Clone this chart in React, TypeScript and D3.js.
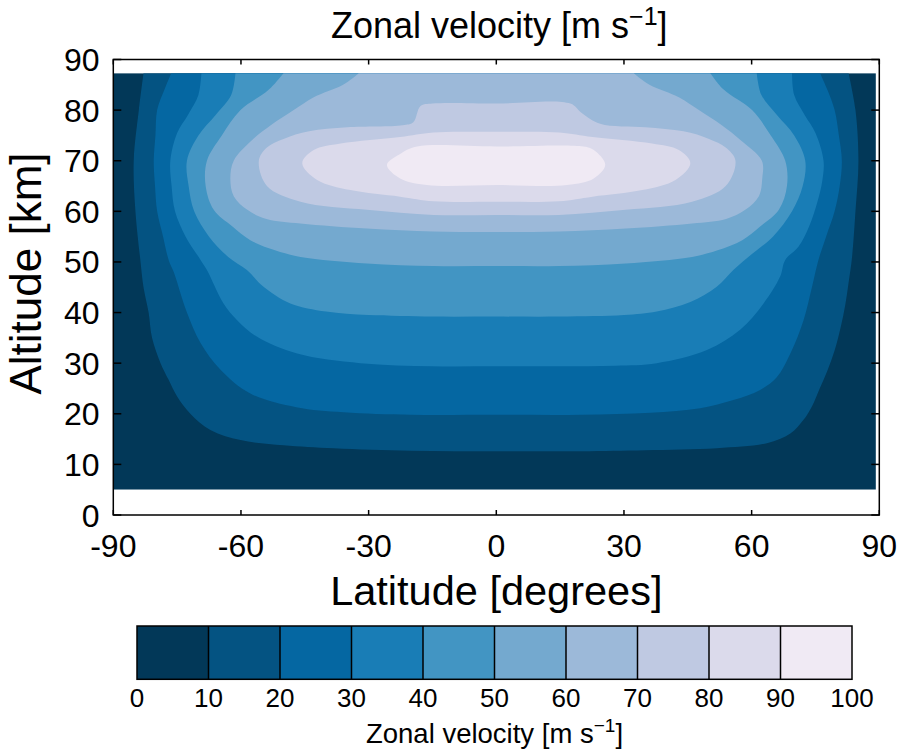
import React from "react";
import * as d3 from "d3";

// ---------- data ----------
const latTicks = [-90, -60, -30, 0, 30, 60, 90];
const altTicks = [0, 10, 20, 30, 40, 50, 60, 70, 80, 90];
const levels = [0, 10, 20, 30, 40, 50, 60, 70, 80, 90, 100];
const latExtent = [-90, 89.2];
const altExtent = [5, 87.3];

// contour lines [latitude, altitude] for each level (open ones end on the top edge)
const contour10: [number, number][] = [
  [-82.9, 87.3], [-84.0, 80], [-85.2, 70], [-84.8, 60], [-83.6, 50], [-82.9, 45], [-81.7, 40],
  [-80.9, 35], [-78.9, 30], [-77.0, 26.7], [-75.0, 23.4], [-71.9, 20.0], [-67.2, 16.8],
  [-60.1, 14.8], [-50.0, 13.8], [-38.2, 13.2], [-20, 12.7], [0, 12.6], [20, 12.6], [35, 12.8],
  [51.8, 13.2], [63.6, 14.2], [69.1, 16.1], [72.2, 18.8], [74.2, 21.5], [76.0, 25],
  [77.8, 28.5], [79.5, 32.5], [80.9, 37], [82.0, 41.5], [82.8, 46], [83.6, 51], [84.4, 60],
  [85.1, 70], [84.4, 80], [82.8, 87.3],
];
const contour20: [number, number][] = [
  [-76.4, 87.3], [-78.0, 84], [-79.7, 80], [-80.1, 75], [-80.5, 70], [-80.2, 65], [-79.7, 60],
  [-78.3, 55], [-77.0, 50.4], [-75.8, 48], [-72.7, 40], [-69.5, 34], [-64.8, 28.7], [-57.8, 24],
  [-47.0, 21.3], [-35.9, 20.3], [-20, 19.8], [0, 19.8], [20, 19.8], [36.2, 20.2], [47.9, 21.1],
  [55.7, 22.7], [62.0, 24.7], [65.9, 27.2], [69.1, 31.9], [72.2, 38.5], [74.2, 45.1],
  [75.7, 50.4], [77.5, 55], [79.5, 60], [80.7, 65], [81.2, 70], [80.5, 75], [79.5, 80],
  [77.8, 84], [76.1, 87.3],
];
const contour30: [number, number][] = [
  [-69.3, 87.3], [-70.0, 83], [-72.5, 79], [-75.0, 75.5], [-76.6, 70], [-76.3, 65], [-75.5, 60],
  [-73.0, 55], [-69.5, 50.4], [-68.0, 48.4], [-64.1, 41.8], [-60.9, 38.5], [-56.2, 35.2],
  [-46.8, 31.9], [-31.9, 30.0], [-15, 29.4], [0, 29.4], [15, 29.4], [28, 29.5], [37.7, 30.0],
  [49.5, 32.6], [57.3, 36.6], [62.8, 41.8], [66.7, 47.1], [67.9, 50.4], [71.0, 53], [73.5, 57],
  [75.5, 62], [76.6, 66], [76.9, 70], [75.0, 75.5], [72.5, 79], [70.0, 83], [69.5, 87.3],
];
const contour40: [number, number][] = [
  [-61.3, 87.3], [-62.3, 83], [-66.0, 79], [-70.0, 75], [-72.7, 70], [-72.3, 65], [-71.0, 60],
  [-67.5, 55], [-63.0, 51], [-58.6, 48.4], [-54.7, 45.1], [-48.4, 41.8], [-40, 40.2],
  [-30, 39.5], [-15, 39.2], [0, 39.2], [15, 39.2], [30, 39.5], [37.7, 40.2], [45.6, 42.1],
  [51.8, 45.1], [55.7, 48.4], [60, 51.5], [65, 55], [69.5, 60], [72, 65], [72.6, 70], [70, 75],
  [66, 79], [62.3, 83], [61.2, 87.3],
];
const contour50: [number, number][] = [
  [-50.0, 87.3], [-53.5, 84], [-60.1, 80], [-64.5, 75], [-68.0, 70], [-68.3, 65], [-66.4, 60.3],
  [-62.0, 57], [-57.8, 54.3], [-52.0, 52.3], [-46.0, 51], [-30.4, 49.7], [-14.7, 49.2],
  [0, 49.2], [14.7, 49.2], [30.4, 49.7], [46, 51], [52, 52.3], [57.8, 54.3], [62, 57],
  [66.4, 60.3], [68.3, 65], [67.9, 70], [64.5, 75], [60.1, 80], [53.5, 84], [50.3, 87.3],
];
const contour60: [number, number][] = [
  [-32.3, 87.3], [-36, 85], [-43, 82.5], [-47.6, 80], [-53, 77], [-57.5, 74], [-61.7, 70],
  [-62.5, 66.5], [-61.7, 63], [-58.5, 60.3], [-54, 58.5], [-46, 57.6], [-30.4, 56.6],
  [-14.7, 56], [0, 55.9], [14.7, 56], [30.4, 56.6], [46, 57.6], [54, 58.5], [58.5, 60.3],
  [61.7, 63], [62.5, 66.5], [62.4, 70], [57.5, 74], [53, 77], [47.6, 80], [43, 82.5], [36, 85],
  [32.3, 87.3],
];
// closed contours
const contour70: [number, number][] = [
  [0, 81.3], [-15, 81.3], [-17.8, 80.8], [-19.5, 77.6], [-22, 77.0], [-35, 76.6], [-44, 75.8],
  [-50, 74.3], [-53.9, 72.6], [-55.8, 70], [-53.9, 65], [-46, 61.9], [-30.4, 60.3],
  [-14.7, 59.3], [0, 59.3], [14.7, 59.3], [30.4, 60.3], [46, 61.9], [53.9, 65], [56.2, 70],
  [53.9, 72.6], [50, 74.3], [44, 75.8], [35, 76.6], [24.4, 77.3], [20, 79.5], [17.4, 81.3],
];
const contour80: [number, number][] = [
  [0, 75.7], [-14.8, 75.6], [-22.6, 74.7], [-36.6, 73.4], [-42.9, 72.1], [-45.6, 69.5],
  [-42.1, 66.2], [-34.3, 64.2], [-22.6, 62.9], [-14.7, 62], [0, 61.9], [14.7, 62],
  [22.6, 62.9], [34.3, 64.2], [42.1, 66.2], [45.6, 69.5], [42.9, 72.1], [36.6, 73.4],
  [22.6, 74.7], [14.8, 75.6],
];
const contour90: [number, number][] = [
  [0, 72.8], [-18.6, 72.8], [-22.3, 71.5], [-25.7, 69.2], [-22.6, 66.5], [-16.3, 65.2],
  [0, 65.2], [16.6, 65.2], [22.9, 66.5], [25.6, 69.2], [22.9, 72.1], [20.5, 72.8],
];

const openContours = [contour10, contour20, contour30, contour40, contour50, contour60];
const closedContours = [contour70, contour80, contour90];

// matplotlib PuBu colormap stops
const pubuStops = ["#fff7fb", "#ece7f2", "#d0d1e6", "#a6bddb", "#74a9cf", "#3690c0", "#0570b0", "#045a8d", "#023858"];

// ---------- layout ----------
const W = 898;
const H = 751;
const FONT = "'Liberation Sans', Arial, sans-serif";

export default function App() {
  const x = d3.scaleLinear().domain([-90, 90]).range([113.3, 879.3]);
  const y = d3.scaleLinear().domain([0, 90]).range([515, 59.5]);
  const pubu = d3
    .scaleLinear<string>()
    .domain(pubuStops.map((_, i) => i / (pubuStops.length - 1)))
    .range(pubuStops)
    .interpolate(d3.interpolateRgb);
  const bandColor = (i: number) => pubu(1 - i / 10);

  const openLine = d3
    .line<[number, number]>()
    .x((d) => x(d[0]))
    .y((d) => y(d[1]))
    .curve(d3.curveCatmullRom.alpha(0.5));
  const closedLine = d3
    .line<[number, number]>()
    .x((d) => x(d[0]))
    .y((d) => y(d[1]))
    .curve(d3.curveCatmullRomClosed.alpha(0.5));

  const dx0 = x(latExtent[0]);
  const dx1 = x(latExtent[1]);
  const dy0 = y(altExtent[1]);
  const dy1 = y(altExtent[0]);

  const cb = d3.scaleLinear().domain([0, 100]).range([137, 852]);
  const cbTop = 626;
  const cbBottom = 679.3;

  return (
    <svg
      width={W}
      height={H}
      style={{ position: "absolute", left: 0, top: 0, background: "#fff" }}
      fontFamily={FONT}
    >
      <defs>
        <clipPath id="dataClip">
          <rect x={dx0} y={dy0} width={dx1 - dx0} height={dy1 - dy0} />
        </clipPath>
      </defs>

      {/* filled contours */}
      <g clipPath="url(#dataClip)">
        <rect x={dx0} y={dy0} width={dx1 - dx0} height={dy1 - dy0} fill={bandColor(0)} />
        {openContours.map((c, i) => (
          <path key={"o" + i} d={(openLine(c) || "") + "Z"} fill={bandColor(i + 1)} />
        ))}
        {closedContours.map((c, i) => (
          <path key={"c" + i} d={closedLine(c) || ""} fill={bandColor(i + 7)} />
        ))}
      </g>

      {/* frame */}
      <rect x={x(-90)} y={y(90)} width={x(90) - x(-90)} height={y(0) - y(90)} fill="none" stroke="#000" strokeWidth={1.5} />

      {/* ticks (inward, all sides) */}
      {latTicks.map((t) => (
        <g key={"xt" + t}>
          <line x1={x(t)} x2={x(t)} y1={y(0)} y2={y(0) - 5} stroke="#000" strokeWidth={1.5} />
          <line x1={x(t)} x2={x(t)} y1={y(90)} y2={y(90) + 5} stroke="#000" strokeWidth={1.5} />
          <text x={x(t)} y={557} fontSize={32} textAnchor="middle" fill="#000">
            {String(t)}
          </text>
        </g>
      ))}
      {altTicks.map((t) => (
        <g key={"yt" + t}>
          <line x1={x(-90)} x2={x(-90) + 8} y1={y(t)} y2={y(t)} stroke="#000" strokeWidth={1.5} />
          <line x1={x(90)} x2={x(90) - 8} y1={y(t)} y2={y(t)} stroke="#000" strokeWidth={1.5} />
          <text x={99.5} y={y(t)} dy="0.36em" fontSize={32} textAnchor="end" fill="#000">
            {String(t)}
          </text>
        </g>
      ))}

      {/* titles */}
      <text x={x(0) + 3} y={38} fontSize={36} textAnchor="middle" fill="#000">
        Zonal velocity [m s<tspan dy={-13} fontSize={25}>−1</tspan>
        <tspan dy={13}>]</tspan>
      </text>
      <text x={x(0)} y={605} fontSize={41.5} textAnchor="middle" fill="#000">
        Latitude [degrees]
      </text>
      <text transform={`translate(41, 273.5) rotate(-90)`} fontSize={44} textAnchor="middle" fill="#000">
        Altitude [km]
      </text>

      {/* colorbar */}
      {levels.slice(0, -1).map((lv, i) => (
        <rect key={"cb" + lv} x={cb(lv)} y={cbTop} width={cb(levels[i + 1]) - cb(lv)} height={cbBottom - cbTop} fill={bandColor(i)} />
      ))}
      {levels.slice(1, -1).map((lv) => (
        <line key={"cbl" + lv} x1={cb(lv)} x2={cb(lv)} y1={cbTop} y2={cbBottom} stroke="#000" strokeWidth={1.5} />
      ))}
      <rect x={cb(0)} y={cbTop} width={cb(100) - cb(0)} height={cbBottom - cbTop} fill="none" stroke="#000" strokeWidth={1.5} />
      {levels.map((lv) => (
        <text key={"cbt" + lv} x={cb(lv)} y={706.5} fontSize={26} textAnchor="middle" fill="#000">
          {String(lv)}
        </text>
      ))}
      <text x={(cb(0) + cb(100)) / 2} y={743} fontSize={27.5} textAnchor="middle" fill="#000">
        Zonal velocity [m s<tspan dy={-11} fontSize={19}>−1</tspan>
        <tspan dy={11}>]</tspan>
      </text>
    </svg>
  );
}
